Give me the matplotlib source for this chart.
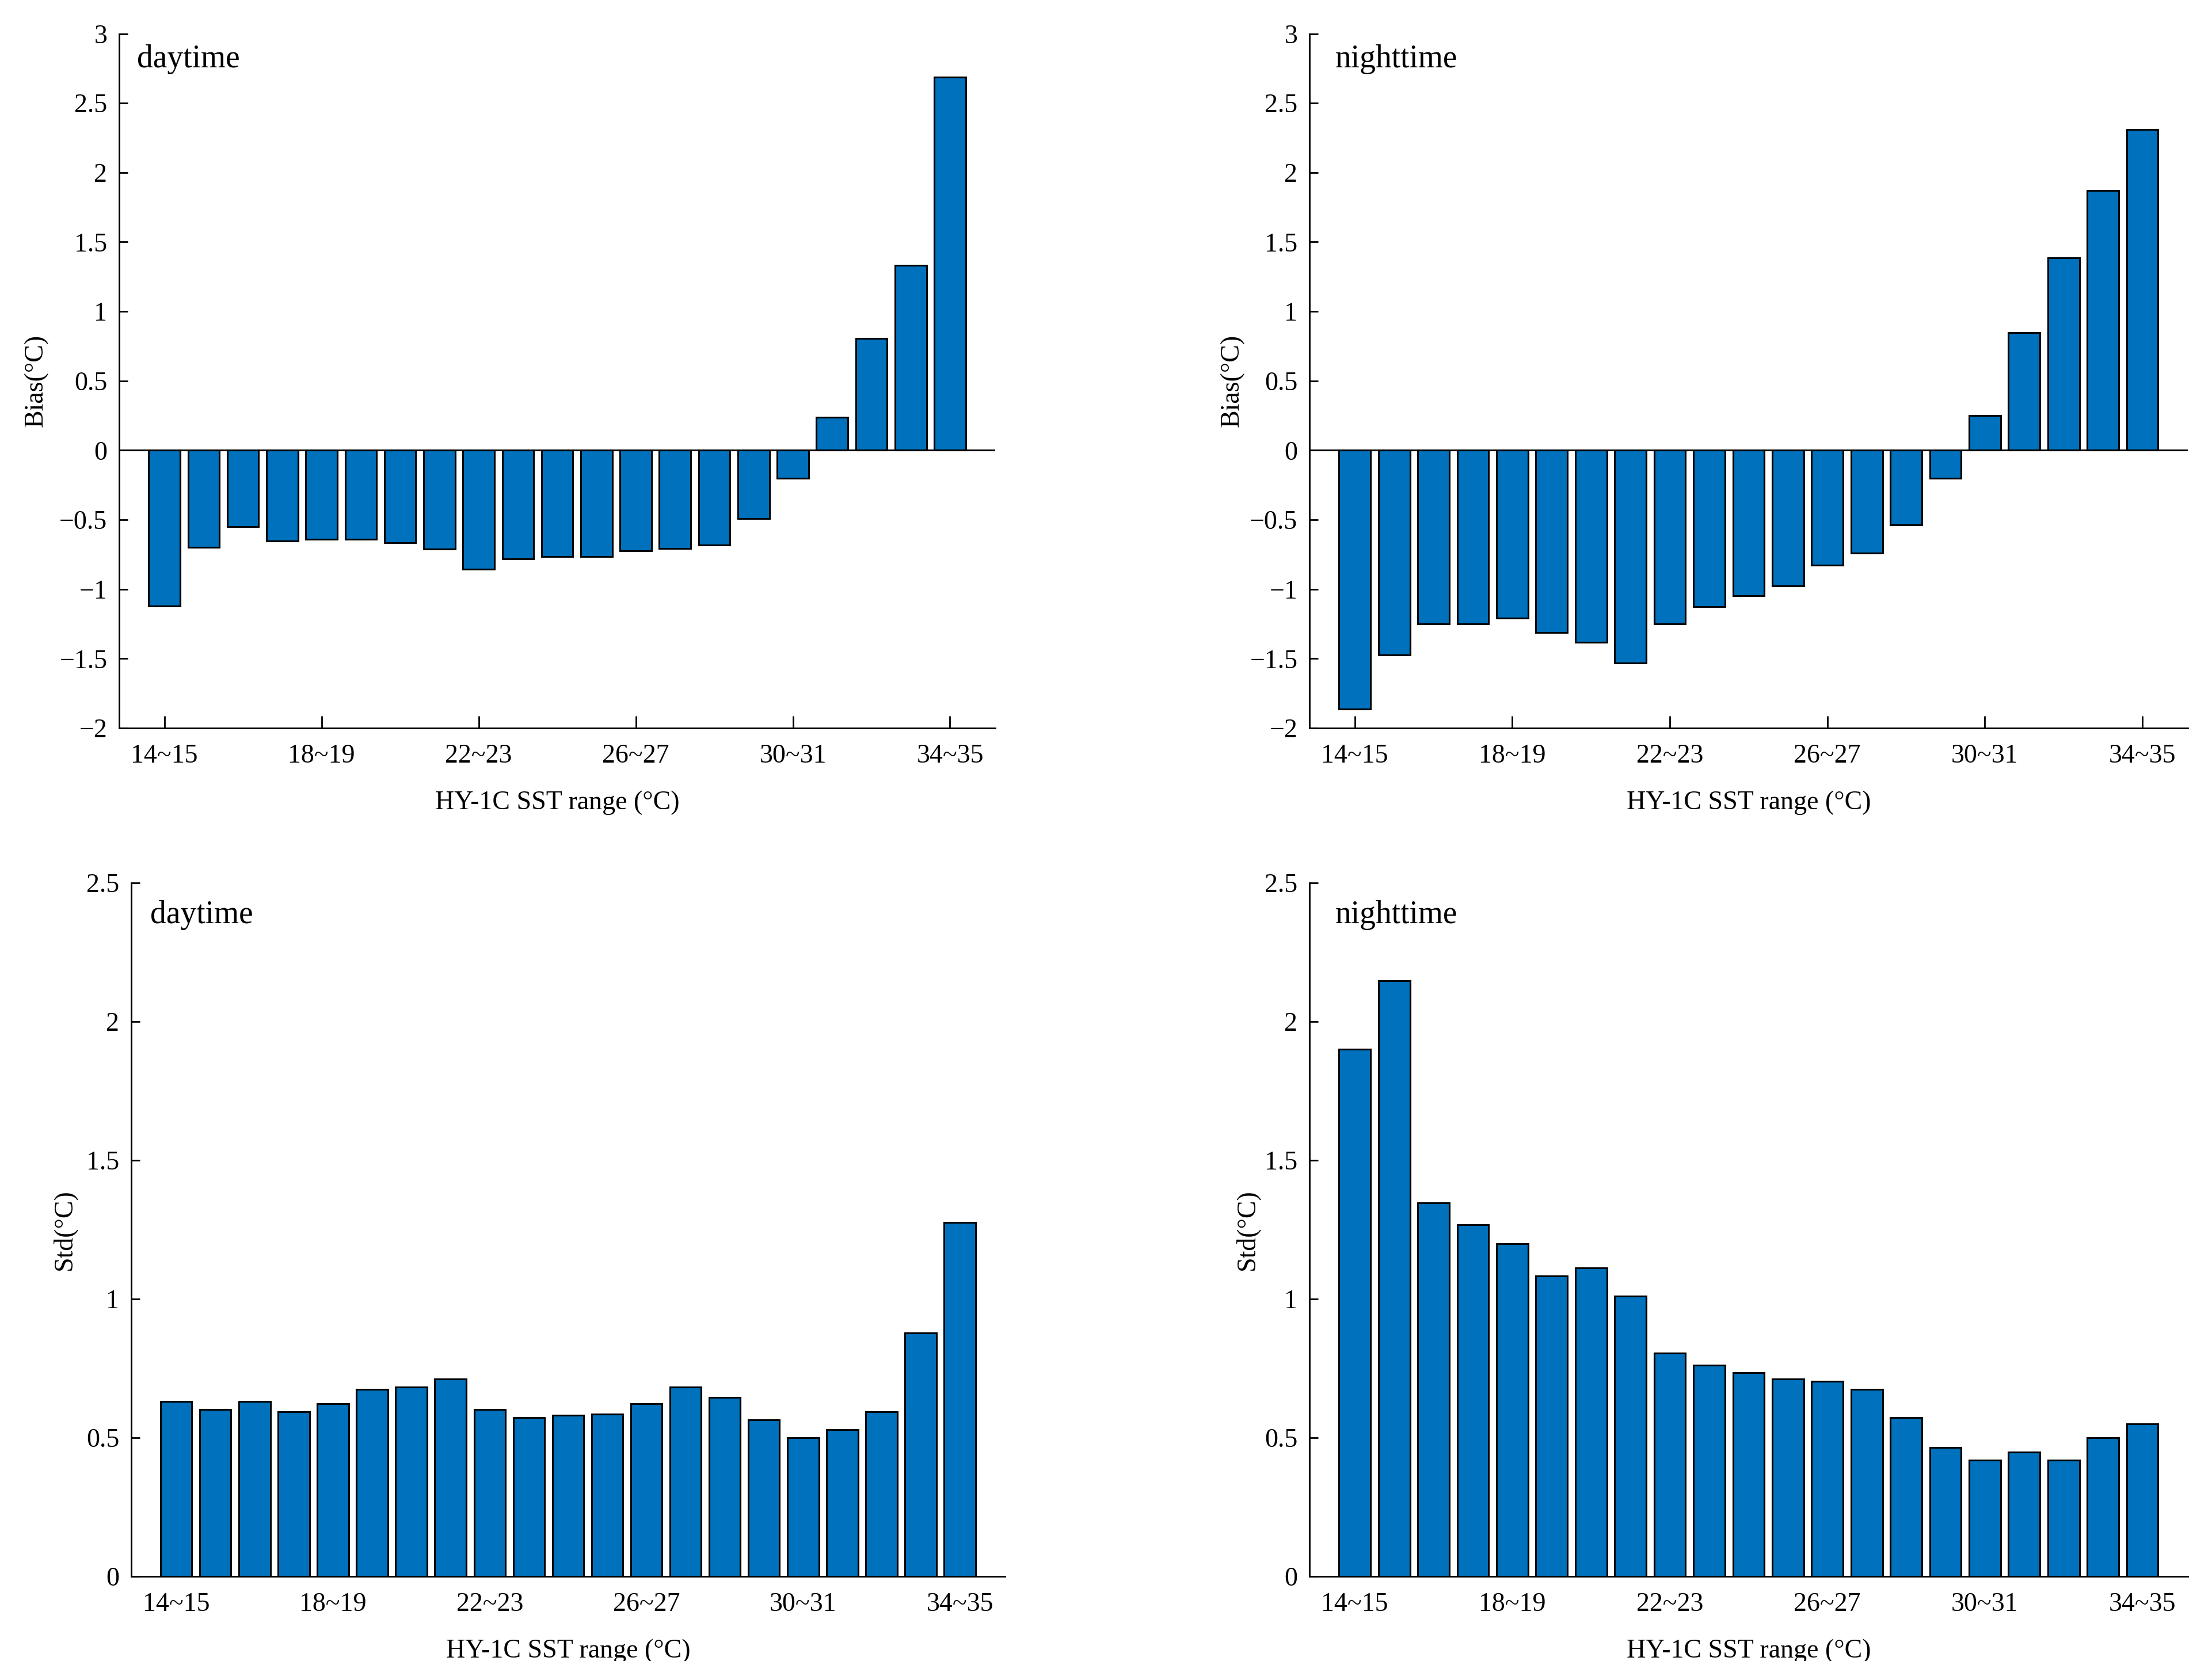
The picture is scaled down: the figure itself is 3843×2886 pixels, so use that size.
import numpy as np
import matplotlib
matplotlib.use('Agg')
import matplotlib.pyplot as plt
from matplotlib.ticker import FuncFormatter

# SST ranges and statistics of HY-1C SST minus in-situ SST

ranges = ["14~15", "15~16", "16~17", "17~18", "18~19", "19~20", "20~21",
          "21~22", "22~23", "23~24", "24~25", "25~26", "26~27", "27~28",
          "28~29", "29~30", "30~31", "31~32", "32~33", "33~34", "34~35"]

bias_day = [-1.12, -0.70, -0.55, -0.655, -0.64, -0.64, -0.667, -0.713, -0.857, -0.783,
            -0.767, -0.767, -0.725, -0.709, -0.682, -0.49, -0.20, 0.236, 0.806, 1.333, 2.686]

bias_night = [-1.864, -1.473, -1.252, -1.252, -1.209, -1.314, -1.384, -1.531, -1.252, -1.124,
              -1.047, -0.977, -0.829, -0.740, -0.539, -0.20, 0.252, 0.849, 1.388, 1.872, 2.31]

std_day = [0.630, 0.602, 0.630, 0.594, 0.623, 0.674, 0.682, 0.711, 0.602, 0.573,
           0.580, 0.586, 0.623, 0.682, 0.646, 0.565, 0.500, 0.529, 0.594, 0.877, 1.276]

std_night = [1.900, 2.147, 1.347, 1.268, 1.199, 1.082, 1.113, 1.010, 0.805, 0.761,
             0.734, 0.711, 0.703, 0.674, 0.573, 0.464, 0.420, 0.448, 0.420, 0.500, 0.550]

BAR_COLOR = '#0072BD'
TICK_SIZE = 33
LABEL_SIZE = 33
TAG_SIZE = 40

plt.rcParams['font.family'] = ['Liberation Serif', 'DejaVu Serif']
plt.rcParams['axes.unicode_minus'] = True


def fmt(v, pos):
    s = '%g' % v
    return s.replace('-', '\u2212')


def draw_panel(ax, values, ylim, yticks, ylabel, tag, tag_pos, ylabel_x, zero_line):
    x = np.arange(len(values))
    ax.bar(x, values, width=0.8, color=BAR_COLOR, edgecolor='k', linewidth=2.2, zorder=2)
    if zero_line:
        ax.axhline(0, color='k', linewidth=2.2, zorder=3)
    ax.set_xlim(-1.15, len(values) - 1 + 1.15)
    ax.set_ylim(*ylim)
    ax.set_yticks(yticks)
    ax.yaxis.set_major_formatter(FuncFormatter(fmt))
    ax.set_xticks(x[::4])
    ax.set_xticklabels([ranges[i] for i in x[::4]])
    ax.spines['top'].set_visible(False)
    ax.spines['right'].set_visible(False)
    for s in ['left', 'bottom']:
        ax.spines[s].set_linewidth(2.0)
    ax.tick_params(axis='x', direction='in', length=15, width=2.0, pad=20, labelsize=TICK_SIZE)
    ax.tick_params(axis='y', direction='in', length=11, width=2.0, pad=15, labelsize=TICK_SIZE)
    ax.set_xlabel("HY-1C SST range (\u00b0C)", fontsize=LABEL_SIZE)
    ax.xaxis.set_label_coords(0.5, -0.09)
    ax.set_ylabel(ylabel, fontsize=LABEL_SIZE, va='center')
    ax.yaxis.set_label_coords(ylabel_x, 0.5)
    ax.text(tag_pos[0], tag_pos[1], tag, transform=ax.transAxes, ha='left', va='top',
            fontsize=TAG_SIZE)


fig = plt.figure(figsize=(38.43, 28.86), dpi=100)

ax1 = fig.add_axes([0.0539, 0.5617, 0.396, 0.418])
ax2 = fig.add_axes([0.592, 0.5617, 0.397, 0.418])
ax3 = fig.add_axes([0.0593, 0.0509, 0.395, 0.4176])
ax4 = fig.add_axes([0.592, 0.0509, 0.397, 0.4176])

bias_ticks = np.arange(-2, 3.01, 0.5)
std_ticks = np.arange(0, 2.51, 0.5)

draw_panel(ax1, bias_day, (-2, 3), bias_ticks, "Bias(\u00b0C)", "daytime", (0.02, 0.985), -0.095, True)
draw_panel(ax2, bias_night, (-2, 3), bias_ticks, "Bias(\u00b0C)", "nighttime", (0.029, 0.985), -0.088, True)
draw_panel(ax3, std_day, (0, 2.5), std_ticks, "Std(\u00b0C)", "daytime", (0.022, 0.975), -0.077, False)
draw_panel(ax4, std_night, (0, 2.5), std_ticks, "Std(\u00b0C)", "nighttime", (0.029, 0.975), -0.071, False)

fig.savefig('out.png', dpi=100)
